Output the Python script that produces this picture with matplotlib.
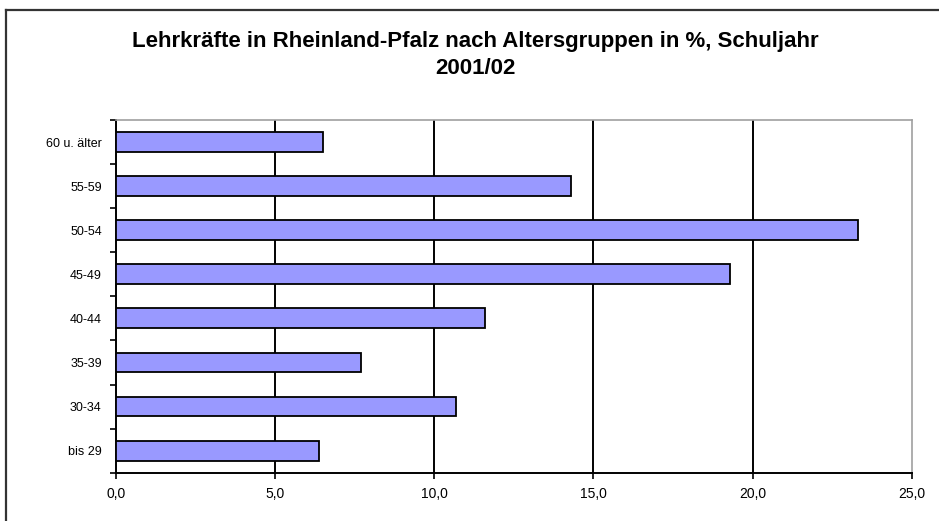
import matplotlib.pyplot as plt
from matplotlib.lines import Line2D
from matplotlib.ticker import FixedLocator, FuncFormatter

# Altersgruppen von unten nach oben
groups = ['bis 29', '30-34', '35-39', '40-44', '45-49', '50-54', '55-59', '60 u. älter']
shares = [6.4, 10.7, 7.7, 11.6, 19.3, 23.3, 14.3, 6.5]
x_ticks = [0, 5, 10, 15, 20, 25]

title = 'Lehrkräfte in Rheinland-Pfalz nach Altersgruppen in %, Schuljahr\n2001/02'

W, H = 939, 521
plt.rcParams['font.family'] = ['Liberation Sans', 'DejaVu Sans']

fig = plt.figure(figsize=(W / 100, H / 100), dpi=100)
fig.patch.set_facecolor('white')

# outer chart frame (cut off at right and bottom in the original)
fig.add_artist(Line2D([5.5 / W, 1.0], [1 - 9.5 / H, 1 - 9.5 / H], color='#333333', lw=1.6))
fig.add_artist(Line2D([5.5 / W, 5.5 / W], [0.0, 1 - 9.5 / H], color='#333333', lw=1.6))

ax = fig.add_axes([115.7 / W, 48.3 / H, 796 / W, 352.7 / H])
ax.set_facecolor('white')

ypos = list(range(len(groups)))
ax.barh(ypos, shares, height=0.45, color='#9999FF', edgecolor='black', linewidth=1.3, zorder=3)

ax.set_xlim(0, 25)
ax.set_ylim(-0.5, len(groups) - 0.5)

for v in x_ticks[1:-1]:
    ax.axvline(v, color='black', lw=1.4, zorder=1)

ax.xaxis.set_major_locator(FixedLocator(x_ticks))
ax.xaxis.set_major_formatter(FuncFormatter(lambda v, p: f'{v:.1f}'.replace('.', ',')))
ax.tick_params(axis='x', direction='out', length=4, width=1.2, color='black',
               labelsize=10, pad=6)

ax.set_yticks(ypos)
ax.set_yticklabels(groups)
ax.yaxis.set_minor_locator(FixedLocator([i - 0.5 for i in range(len(groups) + 1)]))
ax.tick_params(axis='y', which='major', length=0, labelsize=9, pad=10)
ax.tick_params(axis='y', which='minor', direction='out', length=4, width=1.2, color='black')

for side in ['left', 'bottom']:
    ax.spines[side].set_color('black')
    ax.spines[side].set_linewidth(1.4)
for side in ['top', 'right']:
    ax.spines[side].set_color('#a0a0a0')
    ax.spines[side].set_linewidth(1.2)

fig.text(475 / W, 1 - 55 / H, title, ha='center', va='center', fontsize=16,
         fontweight='bold', linespacing=1.35)

fig.savefig('out.png', dpi=100)
